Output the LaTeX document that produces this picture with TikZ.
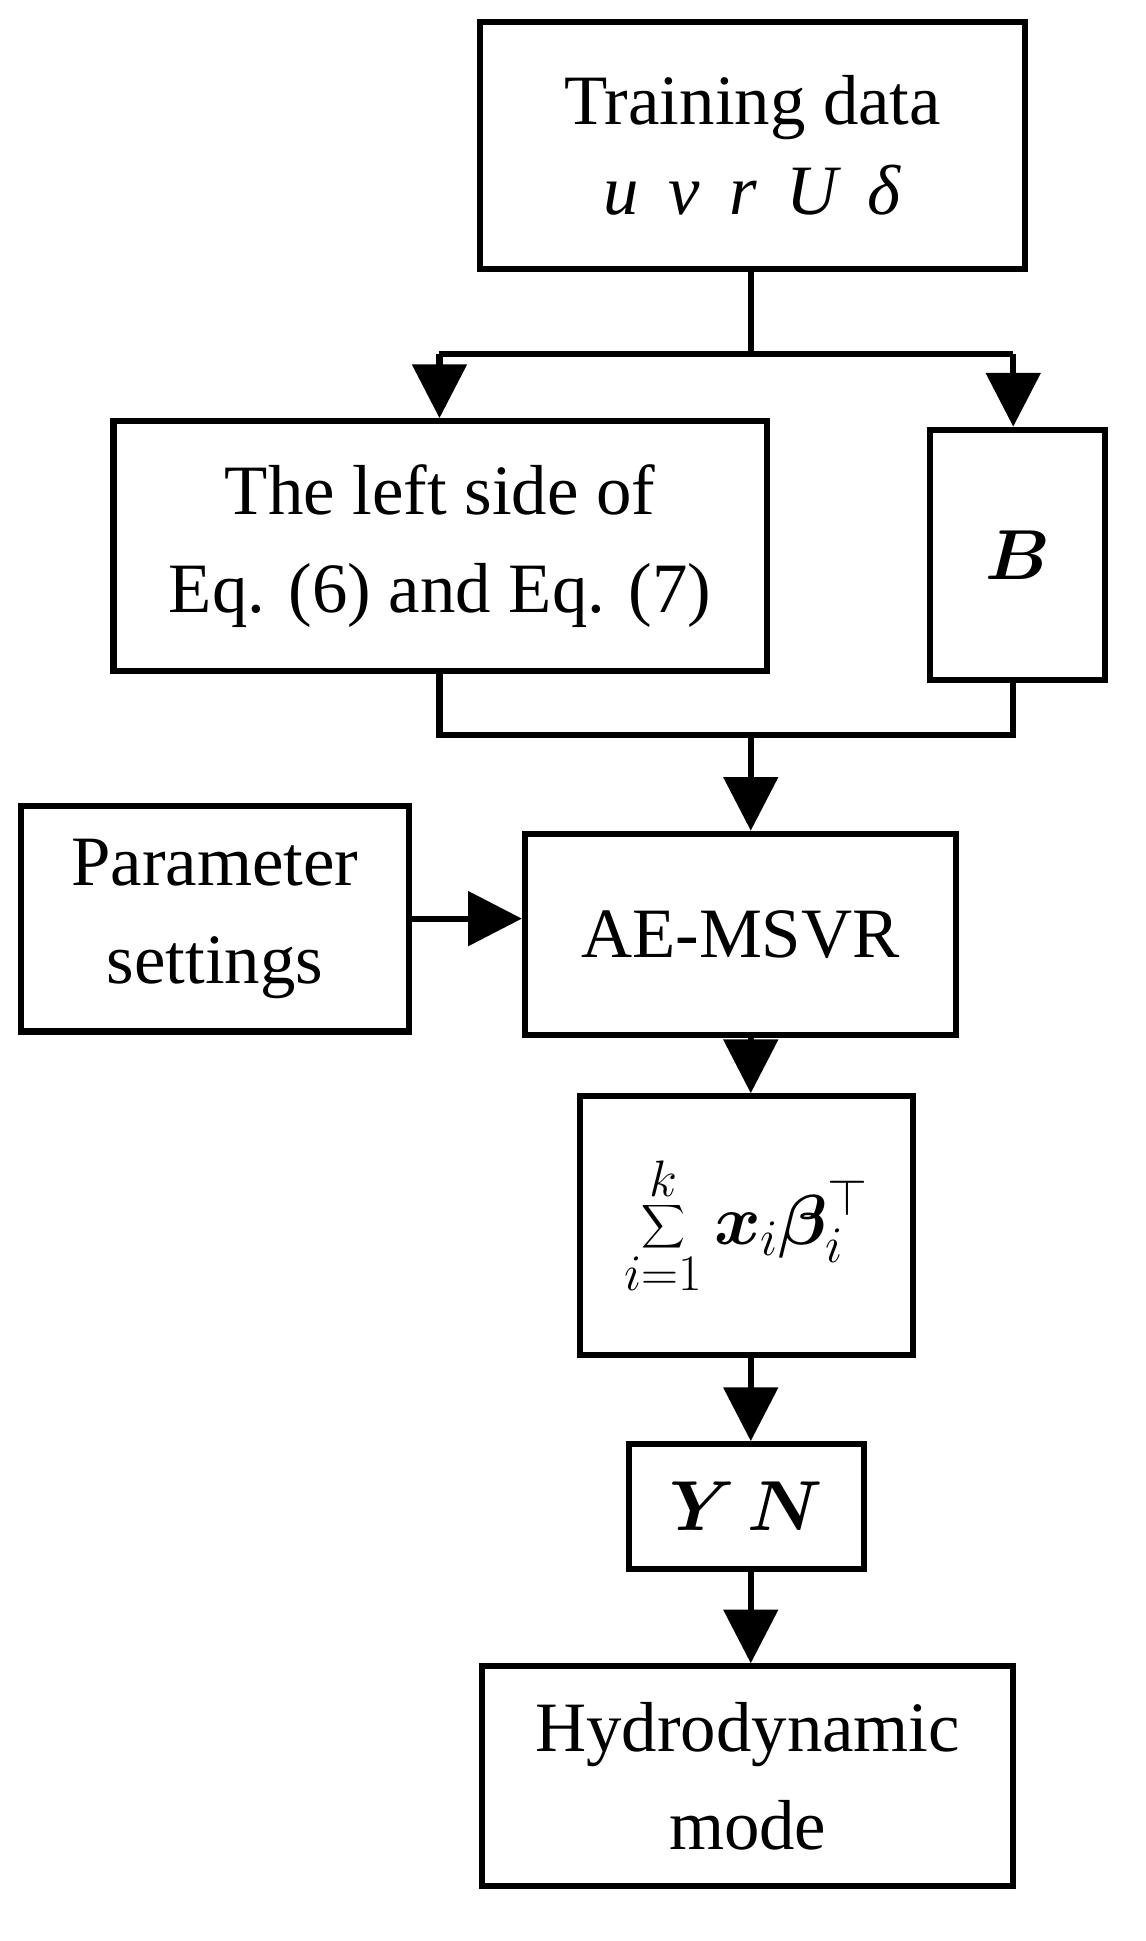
\documentclass[tikz,border=0pt]{standalone}
\usepackage{fix-cm}
\usepackage{exscale}
\usepackage{amsmath,bm}
\usepackage{fontspec}
\setmainfont{Liberation Serif}
\usetikzlibrary{arrows.meta}
\DeclareMathSizes{58}{58}{42}{32}
\begin{document}
\fontsize{58}{66}\selectfont
\begin{tikzpicture}[x=1pt,y=-1pt,line width=5pt,
  box/.style={draw,line width=5pt,inner sep=0pt,align=center,font=\fontsize{58}{80}\selectfont},
  arr/.style={-{Triangle[length=44pt,width=44pt]}}]
\useasboundingbox (0,0) rectangle (938,1590);
\node[box,minimum width=447pt,minimum height=202pt] (t) at (616.5,119) {Training data\\[-6pt]\textit{u\, v\, r\, U\, δ}};
\node[box,minimum width=535pt,minimum height=205pt] (l) at (360.5,447.5) {The left side of\\Eq. (6) and Eq. (7)};
\node[box,minimum width=143pt,minimum height=205pt] (b) at (833.5,454.5) {$\bm{B}$};
\node[box,minimum width=318pt,minimum height=185pt] (p) at (176,752.5) {Parameter\\settings};
\node[box,minimum width=353pt,minimum height=165pt] (a) at (606.5,765.5) {AE-MSVR};
\node[box,minimum width=273pt,minimum height=212pt] (s) at (611.5,1004) {$\displaystyle\sum_{i=1}^{k}\bm{x}_i\bm{\beta}_i^{\top}$};
\node[box,minimum width=193pt,minimum height=102pt] (y) at (611.5,1234) {$\bm{Y}\,\bm{N}$};
\node[box,minimum width=435pt,minimum height=180pt] (h) at (612.5,1455) {Hydrodynamic\\mode};
\coordinate (j1) at (615,290);
\coordinate (j1l) at (360,290);
\coordinate (j1r) at (830,290);
\coordinate (j2) at (615,602);
\draw (t.south -| j1) -- (j1);
\draw (j1l) -- (j1r);
\draw[arr] (j1l) -- (l.north -| j1l);
\draw[arr] (j1r) -- (b.north -| j1r);
\draw (l.south -| j1l) -- (360,602) -- (830,602) -- (b.south -| j1r);
\draw[arr] (j2) -- (a.north -| j2);
\draw[arr] (p.east) -- (a.west |- p.east);
\draw[arr] (a.south -| j2) -- (s.north -| j2);
\draw[arr] (s.south -| j2) -- (y.north -| j2);
\draw[arr] (y.south -| j2) -- (h.north -| j2);
\end{tikzpicture}
\end{document}
